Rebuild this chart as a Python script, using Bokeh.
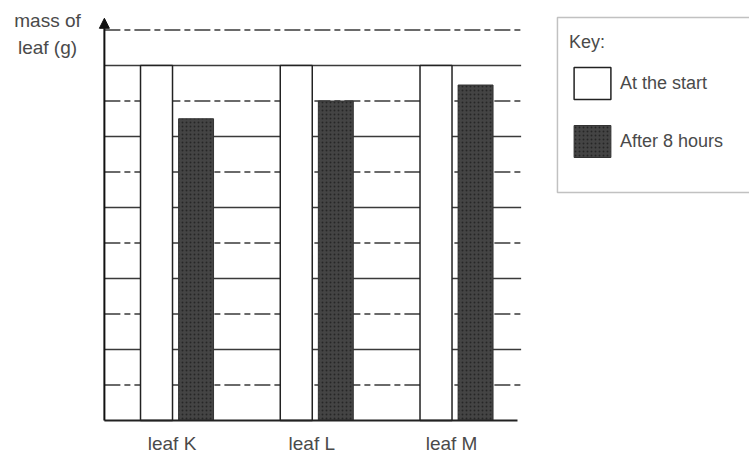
from bokeh.plotting import figure
from bokeh.models import (Range1d, ColumnDataSource, Arrow, NormalHead, Label,
                          Legend, LegendItem, BoxAnnotation)
from bokeh.core.properties import value
from bokeh.embed import file_html
from bokeh.resources import INLINE

# ---- data ----
categories = ["leaf K", "leaf L", "leaf M"]
mass_start = [10, 10, 10]
mass_after = [8.5, 9.0, 9.45]
solid_ticks = [2, 4, 6, 8, 10]
dashed_ticks = [1, 3, 5, 7, 9, 11]

# ---- layout constants ----
pos = list(range(len(categories)))
grid_x0, grid_x1 = -0.516, 2.466
FONT = "Liberation Sans"
TXT = "#4a4a4a"

p = figure(width=749, height=461, output_backend="svg", toolbar_location=None,
           x_range=Range1d(-1.2594, 4.1002), y_range=Range1d(-1.1549, 11.831),
           min_border=0, outline_line_color=None)
p.axis.visible = False
p.grid.visible = False

# grid lines
p.segment(x0=[grid_x0] * len(solid_ticks), x1=[grid_x1] * len(solid_ticks),
          y0=solid_ticks, y1=solid_ticks, line_color="#3a3a3a", line_width=1.4)
p.segment(x0=[grid_x0] * len(dashed_ticks), x1=[grid_x1] * len(dashed_ticks),
          y0=dashed_ticks, y1=dashed_ticks, line_color="#3a3a3a", line_width=1.3,
          line_dash="16 4 6 4")

src = ColumnDataSource(dict(
    xs=[i - 0.143 for i in pos],
    xa=[i + 0.14 for i in pos],
    start=mass_start, after=mass_after, cat=categories,
    ty=[-0.66] * len(pos), tx=[i - 0.032 for i in pos]))

r_start = p.vbar(x="xs", top="start", bottom=0, width=0.229, source=src,
                 fill_color="white", line_color="#222222", line_width=1.5)
r_after = p.vbar(x="xa", top="after", bottom=0, width=0.25, source=src,
                 fill_color="#444444", line_color="#333333", line_width=1,
                 hatch_pattern="dot", hatch_color="#1a1a1a", hatch_scale=4,
                 hatch_alpha=0.7)

# baseline and y axis with arrow
p.segment(x0=[grid_x0], x1=[2.44], y0=[0], y1=[0], line_color="#222222", line_width=2)
p.add_layout(Arrow(end=NormalHead(size=10, fill_color="#111111", line_color="#111111"),
                   x_start=grid_x0, y_start=0, x_end=grid_x0, y_end=11.33,
                   line_color="#111111", line_width=2))

# category labels
p.text(x="tx", y="ty", text="cat", source=src, text_align="center",
       text_baseline="middle", text_font=value(FONT), text_font_size="19px",
       text_color=TXT)

# y axis title
p.add_layout(Label(x=-0.923, y=11.56, text="mass of\nleaf (g)", text_align="center",
                   text_baseline="top", text_font=FONT, text_font_size="19px",
                   text_color=TXT, text_line_height=1.3))

# key box
p.add_layout(BoxAnnotation(left=2.726, right=4.4, top=11.352, bottom=6.423,
                           fill_alpha=0, line_color="#333333", line_width=1.5))

legend = Legend(items=[LegendItem(label="At the start", renderers=[r_start]),
                       LegendItem(label="After 8 hours", renderers=[r_after])],
                title="Key:", location=(569, 300),
                glyph_width=46, glyph_height=40, label_standoff=5, spacing=18,
                padding=0, margin=0, border_line_alpha=0, background_fill_alpha=0,
                title_text_font=FONT, title_text_font_size="18px",
                title_text_font_style="normal", title_text_color=TXT,
                title_standoff=10,
                label_text_font=FONT, label_text_font_size="18px",
                label_text_color=TXT, label_height=40)
p.add_layout(legend)

open("out.html", "w").write(file_html(p, INLINE))
